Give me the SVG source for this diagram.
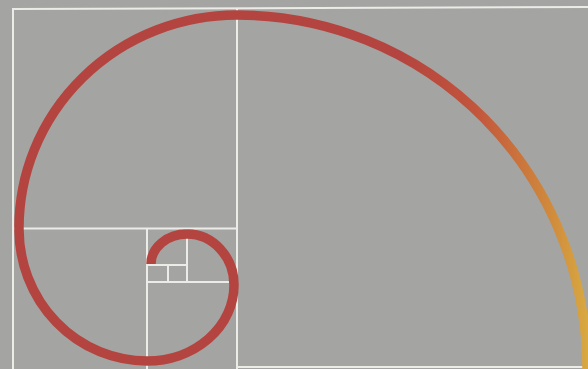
<svg xmlns="http://www.w3.org/2000/svg" width="588" height="369" viewBox="0 0 588 369">
  <defs>
    <linearGradient id="spiralGrad" gradientUnits="userSpaceOnUse" x1="400" y1="0" x2="588" y2="0">
      <stop offset="0" stop-color="#b4443f"/>
      <stop offset="0.4" stop-color="#c2553c"/>
      <stop offset="0.8" stop-color="#d08a3c"/>
      <stop offset="1" stop-color="#d8a941"/>
    </linearGradient>
  </defs>
  <style>
    .grid { stroke: #ebebe8; stroke-width: 2; fill: none; }
    .spiral { stroke: url(#spiralGrad); stroke-width: 9.5; fill: none; stroke-linecap: butt; }
  </style>
  <rect x="0" y="0" width="588" height="369" fill="#a4a4a2"/>
  <g id="grid">
    <line class="grid" x1="12" y1="9" x2="588" y2="7"/>
    <line class="grid" x1="13" y1="8.5" x2="13" y2="369"/>
    <line class="grid" x1="237" y1="8" x2="237" y2="369"/>
    <line class="grid" x1="237" y1="367" x2="588" y2="367"/>
    <line class="grid" x1="13" y1="228.5" x2="237" y2="228.5"/>
    <line class="grid" x1="147" y1="228.5" x2="147" y2="369"/>
    <line class="grid" x1="147" y1="282" x2="237" y2="282"/>
    <line class="grid" x1="187" y1="228.5" x2="187" y2="282"/>
    <line class="grid" x1="147" y1="265" x2="187" y2="265"/>
    <line class="grid" x1="168" y1="265" x2="168" y2="282"/>
  </g>
  <g id="spiral">
    <path class="spiral" d="M 587 369 A 350 354 0 0 0 237 15 A 218 213 0 0 0 19 228.5 A 128 132 0 0 0 147 361 A 87 76 0 0 0 234 285 A 47 51 0 0 0 187 234 A 36 30 0 0 0 151 264"/>
  </g>
</svg>
